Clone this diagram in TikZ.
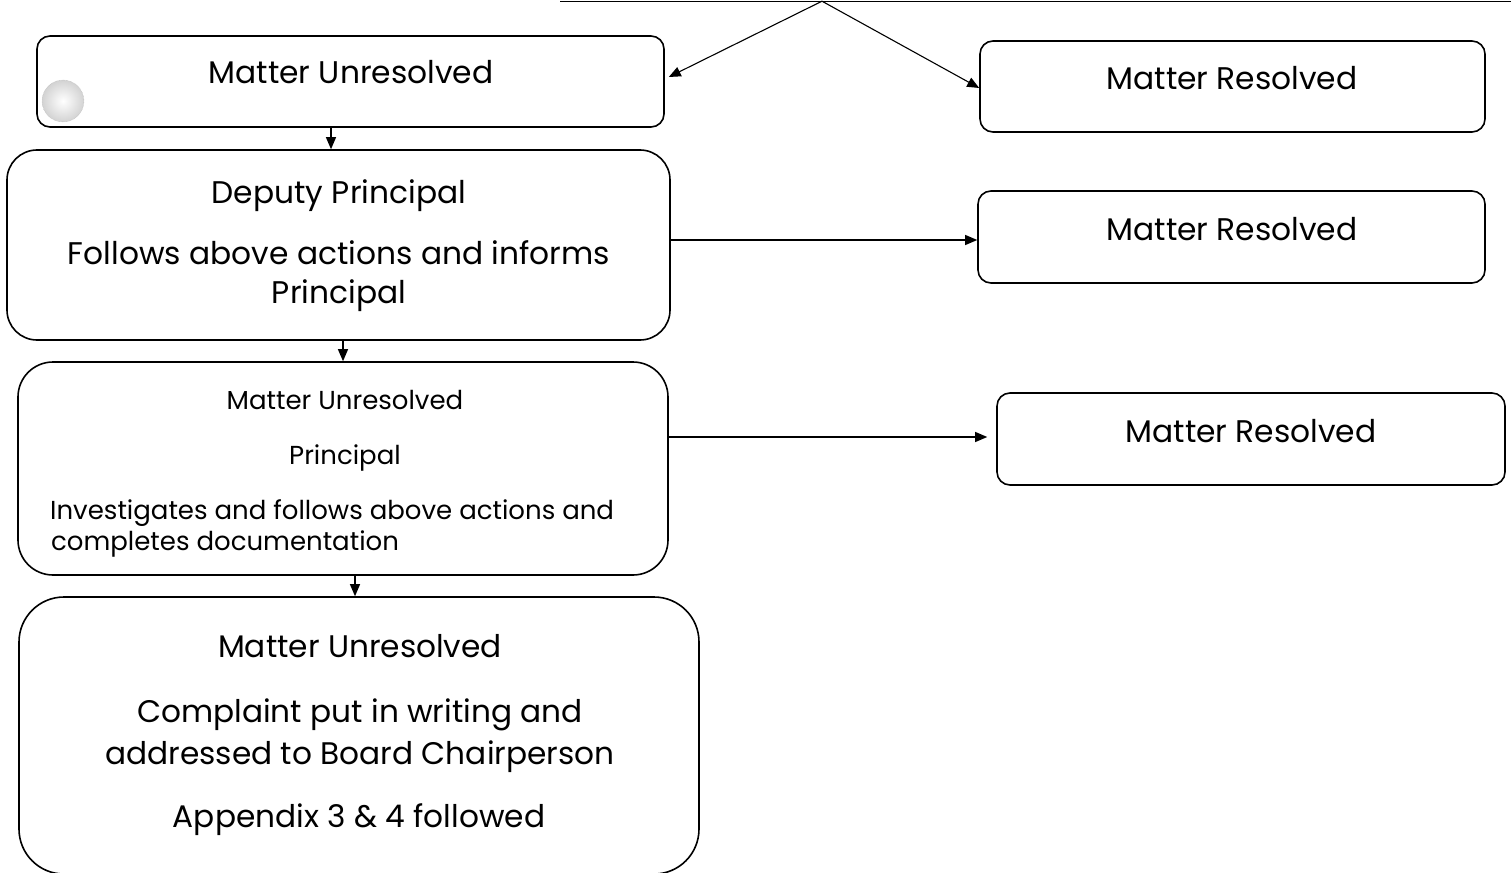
\documentclass[tikz,border=0pt]{standalone}
\usepackage{fontspec}
\setmainfont{Poppins}
\usetikzlibrary{arrows.meta,calc}
\begin{document}
\begin{tikzpicture}[x=1pt,y=-1pt,
  box/.style={draw=black,line width=1.6pt,rectangle,inner sep=0pt},
  conn/.style={draw=black,line width=1.1pt,-{Triangle[length=12pt,width=10pt]}},
  big/.style={font=\fontsize{31.3}{36}\selectfont},
  mid/.style={font=\fontsize{31.2}{36}\selectfont},
  small/.style={font=\fontsize{26}{30}\selectfont},
  txt/.style={anchor=base,inner sep=0pt}]
\useasboundingbox (0,0) rectangle (1511,872);
% boxes
\node[box,rounded corners=13pt,minimum width=627pt,minimum height=91pt] (u1) at (350.5,81.5) {};
\node[box,rounded corners=30pt,minimum width=663pt,minimum height=190pt] (u2) at (338.5,245) {};
\node[box,rounded corners=35pt,minimum width=650pt,minimum height=213pt] (u3) at (343,468.5) {};
\node[box,rounded corners=45pt,minimum width=680pt,minimum height=277pt] (u4) at (359,735.5) {};
\node[box,rounded corners=13pt,minimum width=505pt,minimum height=91pt] (r1) at (1232.5,86.5) {};
\node[box,rounded corners=13pt,minimum width=507pt,minimum height=92pt] (r2) at (1231.5,237) {};
\node[box,rounded corners=13pt,minimum width=508pt,minimum height=92pt] (r3) at (1251,439) {};
% gray ball
\node[circle,minimum size=42pt,inner sep=0pt,draw=gray!60,densely dotted,inner color=white,outer color=gray!35] (ball) at (63,101) {};
% texts
\node[txt,big] (t1) at (351,84) {Matter Unresolved};
\node[txt,big] (tr1) at (1232,90) {Matter Resolved};
\node[txt,big] (tr2) at (1232,240) {Matter Resolved};
\node[txt,big] (tr3) at (1251,442) {Matter Resolved};
\node[txt,big] (t2a) at (339,203) {Deputy Principal};
\node[txt,big] (t2b) at (339,264) {Follows above actions and informs};
\node[txt,big] (t2c) at (339,303) {Principal};
\node[txt,small] (t3a) at (345,409) {Matter Unresolved};
\node[txt,small] (t3b) at (345,464) {Principal};
\node[txt,small,anchor=base west] (t3c) at (50,519) {Investigates and follows above actions and};
\node[txt,small,anchor=base west] (t3d) at (51,550) {completes documentation};
\node[txt,mid] (t4a) at (360,657) {Matter Unresolved};
\node[txt,mid] (t4b) at (360,722) {Complaint put in writing and};
\node[txt,mid] (t4c) at (360,764) {addressed to Board Chairperson};
\node[txt,mid] (t4d) at (359,827) {Appendix 3 \& 4 followed};
% connectors
\coordinate (topl) at (560,1.2);
\coordinate (topr) at (1511,1.2);
\coordinate (apex) at (822,1.2);
\draw[line width=1.1pt] (topl) -- (topr);
\draw[conn] (apex) -- ([xshift=4pt,yshift=4.5pt]u1.east);
\draw[conn] (apex) -- ([yshift=-1.5pt]r1.west);
\draw[conn] ([xshift=-19.5pt]u1.south) -- ([xshift=-7.5pt]u2.north);
\draw[conn] ([xshift=4.5pt]u2.south) -- (u3.north);
\draw[conn] ([xshift=12pt]u3.south) -- ([xshift=-4pt]u4.north);
\draw[conn] ([yshift=5pt]u2.east) -- ([yshift=-3pt]r2.west);
\draw[conn] ([yshift=31.5pt]u3.east) -- ([xshift=-9pt,yshift=2pt]r3.west);
\end{tikzpicture}
\end{document}
